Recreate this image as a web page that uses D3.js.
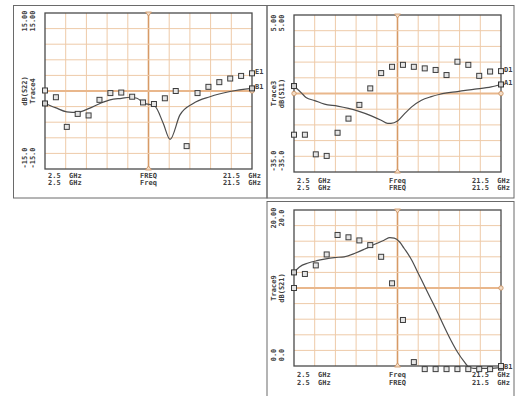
<!DOCTYPE html>
<html><head><meta charset="utf-8">
<script src="https://cdn.jsdelivr.net/npm/d3@7"></script>
<style>body{margin:0;background:#fff}svg{display:block}</style>
</head><body>
<svg id="c" width="516" height="396"></svg>
<script>
// Sweep points, GHz
const freqs = [2.5,3.5,4.5,5.5,6.5,7.5,8.5,9.5,10.5,11.5,12.5,13.5,14.5,15.5,16.5,17.5,18.5,19.5,20.5,21.5];

// S22 panel: measured markers (E1) and simulated trace (B1)
const s22Meas = [0.1,-1.2,-6.9,-4.4,-4.7,-1.7,-0.4,-0.3,-1.1,-2.2,-2.5,-1.4,0.0,-10.6,-0.4,0.8,1.7,2.4,2.9,3.4];
const s22SimFreq = [2.5,3.45,4.5,5.5,6.5,7.55,8.47,9.53,10.3,10.94,11.56,12.57,13.35,13.98,14.89,16.1,17.64,19.49,21.5];
const s22Sim = [-2.4,-3.2,-4.0,-4.1,-3.4,-2.4,-1.7,-1.4,-1.2,-1.4,-2.3,-2.9,-6.2,-9.3,-4.6,-2.4,-1.1,-0.1,0.5];

// S11 panel: measured markers (D1) and simulated trace (A1)
const s11Meas = [-25.5,-25.5,-30.5,-30.9,-25.0,-21.4,-17.9,-13.7,-9.8,-8.2,-7.7,-8.2,-8.6,-9.0,-10.3,-6.9,-7.7,-10.5,-9.4,-9.3];
const s11SimFreq = [2.5,3.2,3.6,4.4,5.3,6.5,7.5,8.4,9.6,10.5,11.1,11.4,12.0,12.7,13.3,14.2,15.1,15.9,17.5,19.1,20.6,21.5];
const s11Sim = [-13.1,-14.9,-16.0,-16.8,-17.7,-18.2,-18.8,-19.5,-20.7,-21.8,-22.6,-22.6,-22.0,-20.0,-18.4,-16.7,-15.8,-15.2,-14.5,-13.9,-13.3,-12.7];

// S21 panel: measured markers and simulated trace (B1)
const s21Meas = [10.0,11.8,12.9,14.3,16.8,16.5,16.1,15.5,14.0,10.6,5.9,0.5,-0.4,-0.4,-0.4,-0.4,-0.4,-0.4,-0.4,0.0];
const s21SimFreq = [2.5,3.0,3.8,4.6,5.3,6.2,7.1,8.1,9.0,9.9,10.8,11.3,11.7,12.2,12.6,13.3,13.9,14.5,15.1,15.7,16.3,16.9,17.5,18.1,18.6,19.0,20.5,21.5];
const s21Sim = [12.0,12.7,13.2,13.5,13.7,13.9,14.0,14.45,15.0,15.6,16.15,16.45,16.4,15.9,15.1,13.6,11.9,10.2,8.5,6.8,5.0,3.3,1.8,0.6,-0.2,-0.3,-0.3,-0.2];

// Scale end labels (two traces per panel) and trace names
const s22Top = ["15.00","15.00"], s22Bottom = ["-15.0","-15.0"], s22Names = ["dB(S22)","Trace4"];
const s11Top = ["5.00","5.00"],  s11Bottom = ["-35.0","-35.0"], s11Names = ["Trace3","dB(S11)"];
const s21Top = ["20.00","20.0"], s21Bottom = ["0.0","0.0"],    s21Names = ["Trace9","dB(S21)"];
const startLabels = ["2.5  GHz","2.5  GHz"];
const stopLabels = ["21.5  GHz","21.5  GHz"];

const panels = [
  {frame:[13.5,5.5,253.5,192.5], plot:[45,13,207,156], dom:[-15,15], rows:[8.5,15.5],
   meas:s22Meas, simF:s22SimFreq, sim:s22Sim, top:s22Top, bottom:s22Bottom, names:s22Names,
   mid:["FREQ","Freq"], tags:["E1","B1"]},
  {frame:[267,5.5,247,192.5], plot:[294,15,207,157], dom:[-35,5], rows:[10.5,18],
   meas:s11Meas, simF:s11SimFreq, sim:s11Sim, top:s11Top, bottom:s11Bottom, names:s11Names,
   mid:["Freq","FREQ"], tags:["D1","A1"]},
  {frame:[267,201.5,247,200], plot:[294,210,207,156], dom:[0,20], rows:[11,18.5],
   meas:s21Meas, simF:s21SimFreq, sim:s21Sim, top:s21Top, bottom:s21Bottom, names:s21Names,
   mid:["Freq","FREQ"], tags:[null,"B1"]}
];

const svg = d3.select("#c");
const FONT = "'DejaVu Sans Mono', monospace";
const ink = "#404040";

panels.forEach(p => {
  const [fx,fy,fw,fh] = p.frame;
  const [px,py,pw,ph] = p.plot;
  const g = svg.append("g");
  g.append("rect").attr("x",fx).attr("y",fy).attr("width",fw).attr("height",fh)
    .attr("fill","none").attr("stroke","#6a6a6a").attr("stroke-width",1);

  const x = d3.scaleLinear().domain([freqs[0], freqs[freqs.length-1]]).range([px, px+pw]);
  const y = d3.scaleLinear().domain(p.dom).range([py+ph, py]);

  // grid: 10 x 10 divisions
  const xt = d3.range(11).map(i => x.invert(px + pw*i/10));
  const yt = d3.range(11).map(i => y.invert(py + ph*i/10));
  g.append("g").selectAll("line").data(xt.slice(1,10)).join("line")
    .attr("x1",d=>x(d)).attr("x2",d=>x(d)).attr("y1",py).attr("y2",py+ph)
    .attr("stroke",(d,i)=> i===4 ? "#d79a66" : "#eecaa8")
    .attr("stroke-width",(d,i)=> i===4 ? 1.6 : 1);
  g.append("g").selectAll("line").data(yt.slice(1,10)).join("line")
    .attr("y1",d=>y(d)).attr("y2",d=>y(d)).attr("x1",px).attr("x2",px+pw)
    .attr("stroke",(d,i)=> i===4 ? "#e9b78c" : "#eecaa8")
    .attr("stroke-width",(d,i)=> i===4 ? 2 : 1);

  g.append("rect").attr("x",px).attr("y",py).attr("width",pw).attr("height",ph)
    .attr("fill","none").attr("stroke","#4a4a4a").attr("stroke-width",1.3);

  // reference markers at the ends of the centre lines
  const cx = px + pw/2, cy = py + ph/2;
  g.append("path").attr("d",`M${cx-3},${py-1}L${cx+3},${py-1}L${cx},${py+3}Z`)
    .attr("fill","#f3dcc6").attr("stroke","#c98f5e").attr("stroke-width",0.8);
  g.append("path").attr("d",`M${cx-3},${py+ph+1}L${cx+3},${py+ph+1}L${cx},${py+ph-3}Z`)
    .attr("fill","#f3dcc6").attr("stroke","#c98f5e").attr("stroke-width",0.8);
  [px, px+pw].forEach(xx => g.append("circle").attr("cx",xx).attr("cy",cy).attr("r",2.2)
    .attr("fill","#f3dcc6").attr("stroke","#c98f5e").attr("stroke-width",0.8));

  // simulated trace
  const line = d3.line().x((d,i)=>x(p.simF[i])).y(d=>y(d)).curve(d3.curveMonotoneX);
  g.append("path").attr("d",line(p.sim)).attr("fill","none")
    .attr("stroke","#4d4d4d").attr("stroke-width",1.2);
  [0, p.sim.length-1].forEach(i => g.append("rect")
    .attr("x",x(p.simF[i])-2.5).attr("y",y(p.sim[i])-2.5).attr("width",5).attr("height",5)
    .attr("fill","#cfcfcf").attr("stroke","#333").attr("stroke-width",1));

  // measured markers
  g.append("g").selectAll("rect").data(p.meas).join("rect")
    .attr("x",(d,i)=>x(freqs[i])-2.5).attr("y",d=>y(d)-2.5)
    .attr("width",5).attr("height",5)
    .attr("fill","#e6e6e6").attr("stroke","#3d3d3d").attr("stroke-width",1);

  // trace tags at the right edge
  const tagY = [y(p.meas[p.meas.length-1]), y(p.sim[p.sim.length-1])];
  p.tags.forEach((t,i) => { if (t) g.append("text").attr("x",px+pw+3).attr("y",tagY[i]+1)
    .attr("font-family",FONT).attr("font-size",7).attr("font-weight","bold")
    .attr("fill",ink).text(t); });

  // vertical scale labels (rotated)
  const colX = [px-19.5, px-12];
  const vText = (xx, yy, t) => g.append("text")
    .attr("transform",`translate(${xx},${yy}) rotate(-90)`)
    .attr("text-anchor","middle").attr("dominant-baseline","middle")
    .attr("font-family",FONT).attr("font-size",7).attr("font-weight","bold")
    .attr("fill",ink).text(t);
  colX.forEach((xx,i) => {
    vText(xx, py+8, p.top[i]);
    vText(xx, cy, p.names[i]);
    vText(xx, py+ph-11, p.bottom[i]);
  });

  // sweep labels under the plot
  const hText = (xx, yy, t, anchor) => g.append("text").attr("x",xx).attr("y",yy)
    .attr("text-anchor",anchor).attr("font-family",FONT).attr("font-size",7)
    .attr("font-weight","bold").attr("fill",ink)
    .style("white-space","pre").text(t);
  p.rows.forEach((off,i) => {
    const yy = py + ph + off;
    hText(px+3, yy, startLabels[i], "start");
    hText(cx, yy, p.mid[i], "middle");
    hText(px+pw+9, yy, stopLabels[i], "end");
  });
});
</script>
</body></html>
